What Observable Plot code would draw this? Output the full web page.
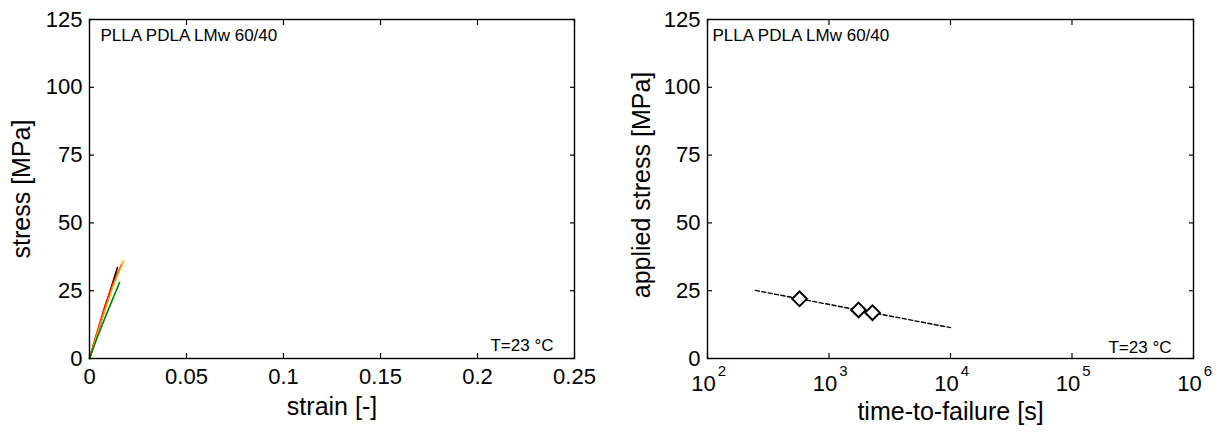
<!DOCTYPE html>
<html><head><meta charset="utf-8">
<script src="https://cdn.jsdelivr.net/npm/d3@7"></script>
<script src="https://cdn.jsdelivr.net/npm/@observablehq/plot@0.6"></script>
<style>
body{margin:0;background:#fff}
#wrap{display:flex;width:1222px;height:432px}
svg{font-family:"Liberation Sans",Arial,sans-serif}
</style>
</head><body><div id="wrap"></div>
<script>
// ---- texts ----
const sampleLabel = "PLLA PDLA LMw 60/40";
const tempLabel = "T=23 °C";
const leftXLabel = "strain [-]";
const leftYLabel = "stress [MPa]";
const rightXLabel = "time-to-failure [s]";
const rightYLabel = "applied stress [MPa]";

// ---- ticks ----
const strainTicks = [0, 0.05, 0.1, 0.15, 0.2, 0.25];
const strainTickLabels = ["0", "0.05", "0.1", "0.15", "0.2", "0.25"];
const stressTicks = [0, 25, 50, 75, 100, 125];
const timeTicks = [1e2, 1e3, 1e4, 1e5, 1e6];
const timeBase = "10";
const timeExponents = ["2", "3", "4", "5", "6"];

// ---- stress-strain curves (strain, stress MPa) ----
const curveNames = ["black", "red", "orange", "green"];
const curveColors = ["#111111", "#e0203a", "#f7941d", "#3a9a3a"];
const curveStrain = [
  [0, 0.004, 0.008, 0.012, 0.0144],
  [0, 0.004, 0.008, 0.012, 0.0165],
  [0, 0.004, 0.008, 0.012, 0.0175],
  [0, 0.004, 0.008, 0.012, 0.0155]
];
const curveStress = [
  [0, 9.0, 18.5, 28.0, 33.5],
  [0, 10.0, 19.5, 27.5, 34.5],
  [0, 9.2, 18.0, 26.5, 36.0],
  [0, 7.8, 15.0, 22.0, 28.0]
];

// ---- creep failure points ----
const failTime = [572, 1750, 2280];
const failStress = [22.0, 17.9, 16.9];
// ---- fit line ----
const fitTime = [248, 1e4];
const fitStress = [25.1, 11.4];

const curves = [];
curveNames.forEach((n, i) => curveStrain[i].forEach((s, j) => curves.push({series: n, strain: s, stress: curveStress[i][j]})));
const fails = failTime.map((t, i) => ({t, s: failStress[i]}));
const fit = fitTime.map((t, i) => ({t, s: fitStress[i]}));

const TICK = 22, LAB = 25, ANN = 17;
const strainFmt = d => strainTickLabels[strainTicks.indexOf(d)];
const expFmt = d => timeExponents[timeTicks.indexOf(d)];

const left = Plot.plot({
  width: 611, height: 432,
  marginLeft: 89, marginRight: 37, marginTop: 19, marginBottom: 74,
  style: {fontFamily: "Liberation Sans, Arial, sans-serif", background: "#fff", color: "#000"},
  x: {domain: [0, 0.25]},
  y: {domain: [0, 125]},
  color: {domain: curveNames, range: curveColors},
  marks: [
    Plot.line(curves, {x: "strain", y: "stress", z: "series", stroke: "series", strokeWidth: 1.6}),
    Plot.frame({strokeWidth: 1.4}),
    Plot.axisX({ticks: strainTicks, tickSize: -5, tickPadding: 15, tickFormat: strainFmt, fontSize: TICK, label: null, strokeWidth: 1.2}),
    Plot.axisX({anchor: "top", ticks: strainTicks, tickSize: -5, tickFormat: () => "", label: null, strokeWidth: 1.2}),
    Plot.axisY({ticks: stressTicks, tickSize: -5, tickPadding: 12, fontSize: TICK, label: null, strokeWidth: 1.2}),
    Plot.axisY({anchor: "right", ticks: stressTicks, tickSize: -5, tickFormat: () => "", label: null, strokeWidth: 1.2}),
    Plot.text([leftXLabel], {frameAnchor: "bottom", dy: 56, fontSize: LAB, text: d => d}),
    Plot.text([leftYLabel], {frameAnchor: "left", textAnchor: "middle", dx: -68, rotate: -90, fontSize: LAB, text: d => d}),
    Plot.text([sampleLabel], {frameAnchor: "top-left", textAnchor: "start", lineAnchor: "top", dx: 11, dy: 9, fontSize: ANN, text: d => d}),
    Plot.text([tempLabel], {frameAnchor: "bottom-right", textAnchor: "end", lineAnchor: "middle", dx: -21, dy: -13, fontSize: ANN, text: d => d})
  ]
});

const right = Plot.plot({
  width: 611, height: 432,
  marginLeft: 96, marginRight: 29, marginTop: 19, marginBottom: 74,
  style: {fontFamily: "Liberation Sans, Arial, sans-serif", background: "#fff", color: "#000"},
  x: {type: "log", domain: [1e2, 1e6]},
  y: {domain: [0, 125]},
  marks: [
    Plot.line(fit, {x: "t", y: "s", stroke: "#000", strokeWidth: 1.4, strokeDasharray: "4,2.5"}),
    Plot.dot(fails, {x: "t", y: "s", symbol: "diamond2", r: 6.6, stroke: "#000", fill: "#fff", strokeWidth: 2}),
    Plot.frame({strokeWidth: 1.4}),
    Plot.axisX({ticks: timeTicks, tickSize: -5, tickFormat: () => "", label: null, strokeWidth: 1.2}),
    Plot.axisX({ticks: timeTicks, tickSize: 0, tickPadding: 17, dx: -4, tickFormat: () => timeBase, fontSize: TICK, label: null}),
    Plot.axisX({ticks: timeTicks, tickSize: 0, tickPadding: 7, dx: 14.5, tickFormat: expFmt, fontSize: 15, label: null}),
    Plot.axisX({anchor: "top", ticks: timeTicks, tickSize: -5, tickFormat: () => "", label: null, strokeWidth: 1.2}),
    Plot.axisY({ticks: stressTicks, tickSize: -5, tickPadding: 12, fontSize: TICK, label: null, strokeWidth: 1.2}),
    Plot.axisY({anchor: "right", ticks: stressTicks, tickSize: -5, tickFormat: () => "", label: null, strokeWidth: 1.2}),
    Plot.text([rightXLabel], {frameAnchor: "bottom", dy: 61, fontSize: LAB, text: d => d}),
    Plot.text([rightYLabel], {frameAnchor: "left", textAnchor: "middle", dx: -66, dy: -4, rotate: -90, fontSize: LAB, text: d => d}),
    Plot.text([sampleLabel], {frameAnchor: "top-left", textAnchor: "start", lineAnchor: "top", dx: 5, dy: 9, fontSize: ANN, text: d => d}),
    Plot.text([tempLabel], {frameAnchor: "bottom-right", textAnchor: "end", lineAnchor: "middle", dx: -22, dy: -11, fontSize: ANN, text: d => d})
  ]
});

document.getElementById("wrap").append(left, right);
</script>
</body></html>
